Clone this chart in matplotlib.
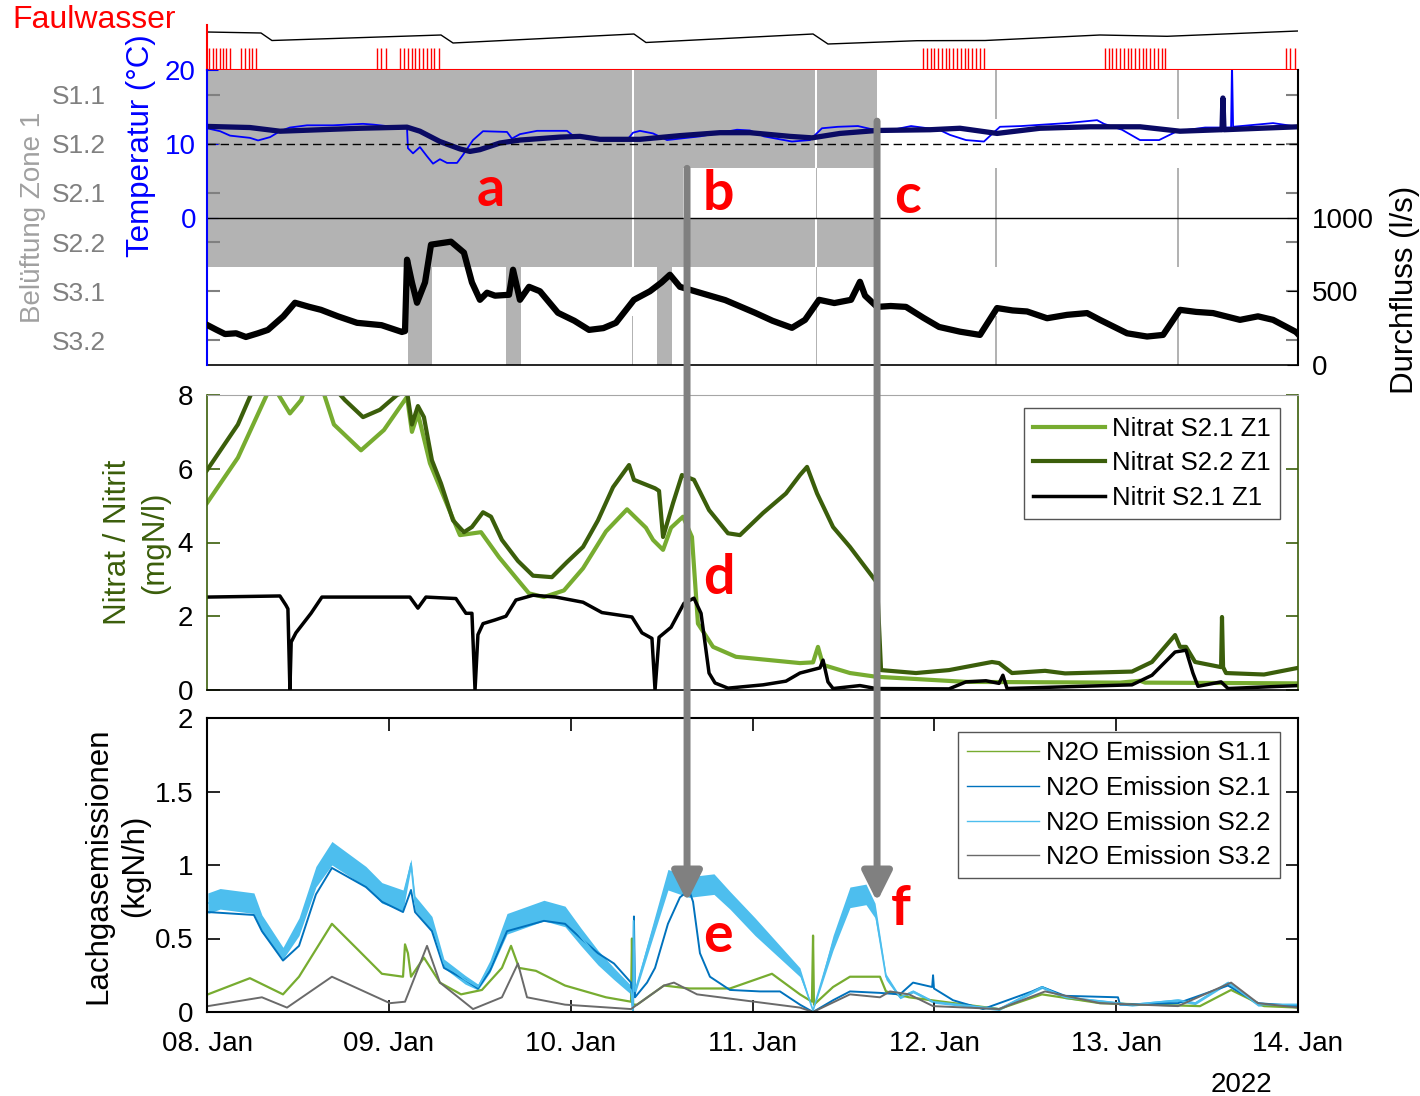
import matplotlib
matplotlib.use('Agg')
import matplotlib.pyplot as plt
import numpy as np
from matplotlib.patches import ConnectionPatch

plt.rcParams['font.family'] = ['Liberation Sans', 'DejaVu Sans']
plt.rcParams['xtick.direction'] = 'in'
plt.rcParams['ytick.direction'] = 'in'

# time axis: days since 08. Jan 2022 00:00
day_ticks = [0, 1, 2, 3, 4, 5, 6]
day_labels = ['08. Jan', '09. Jan', '10. Jan', '11. Jan', '12. Jan', '13. Jan', '14. Jan']

# Faulwasser dosing pulses (hours) and level signal
fw_pulses_h = [0.3, 0.75, 1.2, 1.65, 2.1, 2.55, 3.0,
               4.5, 5.0, 5.5, 6.0, 6.5,
               22.4, 23.0, 23.6,
               25.5, 26.0, 26.5, 27.0, 27.5, 28.0, 28.5, 29.0, 29.5, 30.0, 30.6,
               94.5, 95.0, 95.5, 96.0, 96.5, 97.0, 97.5, 98.0, 98.5, 99.0, 99.5, 100.0,
               100.5, 101.0, 101.5, 102.0, 102.5,
               118.5, 119.0, 119.5, 120.0, 120.5, 121.0, 121.5, 122.0, 122.5, 123.0,
               123.5, 124.0, 124.5, 125.0, 125.5, 126.0, 126.5,
               142.4, 143.0, 143.6]
fw_level_t = [0.000, 0.297, 0.357, 1.287, 1.353, 2.348, 2.414, 3.333, 3.415, 3.905, 4.279, 4.911, 5.280, 6.000]
fw_level = [38, 37, 29.5, 35, 27, 36, 27.5, 36, 26, 29.3, 29.5, 35, 33.7, 39]

# aeration on-times per zone (start, end in days)
bel_names = ['S1.1', 'S1.2', 'S2.1', 'S2.2', 'S3.1', 'S3.2']
bel_on = [
    [(0, 2.335), (2.347, 3.345), (3.357, 3.685), (4.336, 4.343), (5.337, 5.344)],
    [(0, 2.335), (2.347, 3.345), (3.357, 3.685)],
    [(0, 2.335), (2.347, 2.62), (3.348, 3.353), (4.336, 4.343), (5.337, 5.344)],
    [(0, 2.335), (2.347, 3.345), (3.357, 3.685), (4.336, 4.343), (5.337, 5.344)],
    [(1.105, 1.237), (1.644, 1.727), (2.475, 2.557), (3.348, 3.353)],
    [(1.105, 1.237), (1.644, 1.727), (2.338, 2.343), (2.475, 2.557), (3.348, 3.353),
     (4.336, 4.343), (5.337, 5.344)],
]

# temperature (degC)
temp_t = [0.000, 0.072, 0.127, 0.236, 0.281, 0.347, 0.401, 0.456, 0.550, 0.693, 0.858, 0.913,
          1.100, 1.105, 1.133, 1.171, 1.210, 1.243, 1.281, 1.320, 1.375, 1.408, 1.463, 1.518,
          1.650, 1.677, 1.721, 1.815, 1.980, 2.013, 2.161, 2.310, 2.343, 2.381, 2.453, 2.530,
          2.601, 2.711, 2.915, 2.986, 3.063, 3.217, 3.316, 3.382, 3.470, 3.580, 3.668, 3.773,
          3.872, 4.026, 4.086, 4.174, 4.273, 4.312, 4.361, 4.477, 4.730, 4.895, 4.933, 5.032,
          5.131, 5.236, 5.335, 5.489, 5.632, 5.637, 5.643, 5.863, 6.000]
temp = [12.1, 11.7, 11.1, 10.8, 10.45, 10.9, 11.7, 12.2, 12.5, 12.5, 12.7, 12.6,
        12.1, 9.4, 8.7, 9.55, 8.3, 7.3, 7.9, 7.4, 7.4, 8.5, 10.5, 11.7,
        11.6, 10.7, 11.3, 11.75, 11.75, 11.1, 10.7, 10.5, 11.5, 11.75, 11.4, 10.5,
        10.7, 11.0, 11.9, 11.8, 11.0, 10.3, 10.5, 12.1, 12.3, 12.4, 11.9, 11.9,
        12.4, 11.9, 11.2, 10.5, 10.3, 11.2, 12.3, 12.4, 12.8, 13.2, 12.7, 11.9,
        10.5, 10.5, 11.7, 12.2, 12.2, 21.0, 12.3, 12.8, 12.3]
tavg_t = [0.000, 0.236, 0.401, 0.511, 0.841, 1.100, 1.171, 1.281, 1.391, 1.446, 1.501, 1.611,
          1.721, 1.941, 2.051, 2.161, 2.381, 2.601, 2.821, 2.986, 3.206, 3.327, 3.481, 3.685,
          3.976, 4.141, 4.345, 4.581, 4.856, 5.131, 5.351, 5.571, 5.582, 5.587, 5.593, 5.791, 6.000]
tavg = [12.35, 12.2, 11.7, 11.8, 12.1, 12.25, 11.7, 10.3, 9.3, 8.96, 9.2, 10.1,
        10.5, 10.9, 11.0, 10.6, 10.6, 11.1, 11.5, 11.5, 11.0, 10.8, 11.4, 11.8,
        11.9, 12.1, 11.4, 12.1, 12.3, 12.3, 11.7, 11.9, 11.9, 16.2, 11.9, 12.1, 12.3]

# inflow (l/s)
flow_t = [0.000, 0.050, 0.099, 0.160, 0.214, 0.280, 0.335, 0.420, 0.484, 0.560, 0.627, 0.720,
          0.825, 0.960, 1.072, 1.089, 1.100, 1.127, 1.155, 1.199, 1.232, 1.342, 1.413, 1.457,
          1.501, 1.540, 1.584, 1.661, 1.683, 1.721, 1.771, 1.831, 1.930, 2.020, 2.101, 2.180,
          2.249, 2.348, 2.436, 2.500, 2.546, 2.601, 2.711, 2.850, 3.014, 3.110, 3.217, 3.289,
          3.366, 3.450, 3.542, 3.591, 3.619, 3.685, 3.760, 3.844, 3.940, 4.026, 4.141, 4.251,
          4.345, 4.430, 4.510, 4.620, 4.730, 4.840, 4.911, 5.060, 5.170, 5.258, 5.351, 5.440,
          5.533, 5.681, 5.780, 5.863, 5.989, 6.000]
flow = [272, 240, 210, 215, 190, 215, 238, 330, 422, 395, 374, 330,
        286, 270, 224, 230, 714, 560, 422, 560, 816, 836, 762, 560,
        442, 490, 470, 476, 646, 442, 530, 500, 354, 300, 238, 250,
        286, 442, 500, 560, 612, 530, 490, 440, 354, 300, 252, 306,
        442, 420, 442, 564, 470, 394, 400, 394, 320, 258, 226, 204,
        386, 370, 363, 317, 340, 352, 306, 215, 193, 204, 374, 360,
        352, 306, 330, 306, 224, 210]

# nitrate / nitrite (mgN/l)
n21_t = [0.000, 0.170, 0.319, 0.357, 0.456, 0.517, 0.550, 0.632, 0.698, 0.847, 0.973, 1.100,
         1.127, 1.160, 1.226, 1.331, 1.391, 1.507, 1.606, 1.710, 1.771, 1.853, 1.963, 2.068,
         2.194, 2.310, 2.414, 2.453, 2.508, 2.552, 2.618, 2.667, 2.700, 2.783, 2.909, 3.261,
         3.333, 3.360, 3.388, 3.536, 3.679, 4.174, 5.021, 5.131, 5.159, 6.000]
n21 = [5.07, 6.3, 7.9, 8.3, 7.5, 7.86, 8.3, 8.2, 7.2, 6.5, 7.05, 7.95,
       7.0, 7.5, 6.15, 4.9, 4.2, 4.28, 3.6, 2.98, 2.62, 2.52, 2.7, 3.3,
       4.3, 4.9, 4.4, 4.07, 3.8, 4.4, 4.7, 4.15, 1.8, 1.17, 0.9, 0.73,
       0.75, 1.17, 0.68, 0.46, 0.36, 0.22, 0.2, 0.25, 0.2, 0.18]
n22_t = [0.000, 0.170, 0.258, 0.511, 0.698, 0.759, 0.858, 0.951, 1.045, 1.100, 1.127, 1.160,
         1.193, 1.237, 1.287, 1.353, 1.413, 1.457, 1.518, 1.562, 1.622, 1.710, 1.793, 1.897,
         1.980, 2.068, 2.150, 2.233, 2.321, 2.348, 2.464, 2.486, 2.508, 2.563, 2.612, 2.678,
         2.761, 2.865, 2.931, 3.058, 3.184, 3.261, 3.300, 3.355, 3.443, 3.536, 3.674, 3.685,
         3.707, 3.899, 4.081, 4.317, 4.356, 4.427, 4.609, 4.719, 5.087, 5.197, 5.324, 5.351,
         5.384, 5.434, 5.577, 5.582, 5.588, 5.604, 5.813, 6.000]
n22 = [5.96, 7.2, 8.2, 8.6, 8.2, 7.86, 7.4, 7.6, 8.0, 8.1, 7.2, 7.7,
       7.4, 6.23, 5.6, 4.6, 4.28, 4.42, 4.82, 4.7, 4.07, 3.5, 3.1, 3.06,
       3.47, 3.88, 4.6, 5.5, 6.1, 5.7, 5.47, 5.4, 4.15, 5.07, 5.83, 5.7,
       4.88, 4.25, 4.2, 4.8, 5.33, 5.83, 6.05, 5.33, 4.42, 3.88, 2.98, 2.9,
       0.54, 0.46, 0.54, 0.76, 0.73, 0.46, 0.52, 0.45, 0.5, 0.76, 1.49, 1.17,
       1.17, 0.76, 0.62, 1.98, 0.62, 0.46, 0.42, 0.6]
no2_t = [0.000, 0.401, 0.434, 0.445, 0.456, 0.463, 0.489, 0.572, 0.632, 1.116, 1.160, 1.204,
         1.369, 1.424, 1.457, 1.474, 1.490, 1.518, 1.584, 1.644, 1.699, 1.793, 1.919, 2.068,
         2.172, 2.337, 2.392, 2.447, 2.464, 2.486, 2.552, 2.623, 2.678, 2.717, 2.761, 2.794,
         2.865, 3.058, 3.184, 3.261, 3.371, 3.388, 3.415, 3.443, 3.591, 3.679, 4.081, 4.174,
         4.284, 4.356, 4.377, 4.400, 5.087, 5.197, 5.324, 5.384, 5.422, 5.450, 5.577, 5.615, 6.000]
no2 = [2.52, 2.55, 2.3, 2.2, 0.0, 1.3, 1.55, 2.08, 2.52, 2.52, 2.22, 2.52,
       2.48, 2.08, 2.08, 0.0, 1.5, 1.8, 1.9, 2.0, 2.44, 2.57, 2.52, 2.38,
       2.1, 1.98, 1.55, 1.4, 0.0, 1.43, 1.7, 2.35, 2.49, 2.08, 0.46, 0.19,
       0.05, 0.14, 0.24, 0.46, 0.6, 0.81, 0.22, 0.04, 0.12, 0.04, 0.03, 0.22,
       0.25, 0.18, 0.4, 0.04, 0.14, 0.4, 1.03, 1.08, 0.46, 0.1, 0.22, 0.04, 0.12]

# N2O emissions (kgN/h)
s11_t = [0.005, 0.236, 0.418, 0.506, 0.687, 0.825, 0.962, 1.078, 1.089, 1.105, 1.122, 1.193,
         1.281, 1.397, 1.512, 1.622, 1.672, 1.716, 1.809, 1.969, 2.194, 2.332, 2.337, 2.343,
         2.365, 2.513, 2.651, 2.876, 3.107, 3.261, 3.327, 3.333, 3.338, 3.443, 3.536, 3.701,
         3.734, 3.861, 4.356, 4.592, 4.911, 5.461, 5.632, 5.813, 6.000]
s11 = [0.12, 0.23, 0.12, 0.24, 0.6, 0.43, 0.26, 0.24, 0.46, 0.4, 0.24, 0.37,
       0.2, 0.12, 0.15, 0.3, 0.45, 0.3, 0.28, 0.18, 0.1, 0.07, 0.5, 0.05,
       0.05, 0.18, 0.16, 0.16, 0.26, 0.12, 0.07, 0.52, 0.05, 0.17, 0.24, 0.24,
       0.14, 0.1, 0.02, 0.12, 0.06, 0.04, 0.15, 0.04, 0.03]
s21_t = [0.005, 0.258, 0.302, 0.418, 0.506, 0.599, 0.687, 0.874, 0.962, 1.078, 1.122, 1.144,
         1.237, 1.303, 1.419, 1.490, 1.556, 1.650, 1.853, 1.969, 2.057, 2.150, 2.238, 2.332,
         2.343, 2.348, 2.354, 2.420, 2.464, 2.535, 2.601, 2.651, 2.673, 2.711, 2.766, 2.876,
         3.041, 3.151, 3.261, 3.333, 3.443, 3.536, 3.701, 3.811, 3.883, 3.988, 3.993, 3.998,
         4.103, 4.268, 4.537, 4.592, 4.719, 5.010, 5.021, 5.340, 5.615, 5.780, 6.000]
s21 = [0.68, 0.66, 0.55, 0.35, 0.45, 0.8, 0.98, 0.85, 0.75, 0.68, 0.83, 0.68,
       0.55, 0.3, 0.22, 0.16, 0.28, 0.55, 0.62, 0.6, 0.5, 0.4, 0.33, 0.2,
       0.0, 0.65, 0.1, 0.2, 0.3, 0.6, 0.78, 0.83, 0.75, 0.4, 0.24, 0.15,
       0.14, 0.14, 0.05, 0.0, 0.08, 0.14, 0.13, 0.12, 0.2, 0.17, 0.25, 0.16,
       0.08, 0.02, 0.14, 0.17, 0.11, 0.1, 0.05, 0.06, 0.18, 0.06, 0.04]
s22_t = [0.005, 0.072, 0.258, 0.302, 0.418, 0.506, 0.599, 0.687, 0.874, 0.962, 1.078, 1.122,
         1.144, 1.237, 1.303, 1.419, 1.490, 1.556, 1.650, 1.853, 1.969, 2.057, 2.150, 2.238,
         2.332, 2.343, 2.346, 2.354, 2.420, 2.535, 2.651, 2.788, 2.876, 3.014, 3.261, 3.333,
         3.371, 3.443, 3.536, 3.624, 3.674, 3.734, 3.811, 3.883, 3.993, 4.356, 4.592, 4.719,
         5.087, 5.340, 5.434, 5.615, 5.780, 6.000]
s22 = [0.74, 0.77, 0.74, 0.6, 0.4, 0.58, 0.92, 1.08, 0.92, 0.81, 0.76, 1.01,
       0.74, 0.6, 0.33, 0.22, 0.17, 0.31, 0.6, 0.69, 0.65, 0.51, 0.37, 0.26,
       0.15, 0.0, 0.62, 0.14, 0.42, 0.9, 0.85, 0.87, 0.76, 0.58, 0.27, 0.01,
       0.17, 0.47, 0.78, 0.8, 0.69, 0.24, 0.1, 0.14, 0.07, 0.02, 0.17, 0.1,
       0.05, 0.08, 0.06, 0.2, 0.05, 0.05]
# half-width of the measurement noise band of S2.2
s22_spread = [0.07, 0.07, 0.07, 0.06, 0.04, 0.06, 0.07, 0.08, 0.07, 0.07, 0.07, 0.03,
              0.05, 0.05, 0.03, 0.03, 0.02, 0.04, 0.07, 0.07, 0.07, 0.06, 0.05, 0.04,
              0.03, 0.0, 0.0, 0.02, 0.04, 0.07, 0.07, 0.07, 0.06, 0.06, 0.03, 0.0,
              0.02, 0.05, 0.07, 0.07, 0.05, 0.02, 0.01, 0.01, 0.01, 0.01, 0.01, 0.01,
              0.01, 0.01, 0.01, 0.01, 0.01, 0.01]
s32_t = [0.005, 0.302, 0.440, 0.687, 1.006, 1.089, 1.210, 1.281, 1.463, 1.622, 1.710, 1.760,
         1.969, 2.332, 2.513, 2.568, 2.695, 3.261, 3.333, 3.536, 3.701, 3.756, 3.861, 3.993,
         4.356, 4.609, 4.911, 5.340, 5.632, 5.780, 6.000]
s32 = [0.04, 0.1, 0.03, 0.24, 0.06, 0.07, 0.45, 0.2, 0.02, 0.1, 0.33, 0.1,
       0.05, 0.02, 0.18, 0.2, 0.12, 0.03, 0.0, 0.12, 0.1, 0.14, 0.12, 0.04,
       0.02, 0.14, 0.06, 0.04, 0.2, 0.06, 0.03]
n2o_yticks = [0, 0.5, 1, 1.5, 2]
n2o_yticklabels = ['0', '0.5', '1', '1.5', '2']

# arrows (time, top in aeration-band units) and event letters
arrow_t = [2.64, 3.685]
arrow_top = [2.0, 1.04]
arrow_tip = 0.75

GRAY = '#b3b3b3'
C_NO3_1 = '#77ac30'
C_NO3_2 = '#3b5e0b'

fig = plt.figure(figsize=(14.2, 10.96), dpi=100)
L, W = 207 / 1420, 1091 / 1420
ax_fw = fig.add_axes([L, 1 - 70 / 1096, W, 45 / 1096])
ax_bel = fig.add_axes([L, 1 - 365 / 1096, W, 295 / 1096])
ax_mid = fig.add_axes([L, 1 - 690 / 1096, W, 295 / 1096])
ax_bot = fig.add_axes([L, 1 - 1012 / 1096, W, 294 / 1096])

# --- Faulwasser strip
ax_fw.vlines(np.array(fw_pulses_h) / 24, 0, 22, color='red', lw=1)
ax_fw.plot(fw_level_t, fw_level, color='black', lw=1)
ax_fw.set_xlim(0, 6)
ax_fw.set_ylim(0, 45)
ax_fw.set_xticks([])
ax_fw.set_yticks([])
for s in ['top', 'right']:
    ax_fw.spines[s].set_visible(False)
for s in ['left', 'bottom']:
    ax_fw.spines[s].set_color('red')
    ax_fw.spines[s].set_linewidth(1.5)
ax_fw.patch.set_alpha(0)
fig.text(12 / 1420, 1 - 20 / 1096, 'Faulwasser', color='red', fontsize=23, ha='left', va='center')

# --- aeration / temperature / flow panel
for i, on in enumerate(bel_on):
    ax_bel.broken_barh([(s, e - s) for s, e in on], (i, 1), facecolor=GRAY, edgecolor='none')
ax_bel.set_xlim(0, 6)
ax_bel.set_ylim(6, 0)

ax_temp = ax_bel.twinx()
ax_flow = ax_bel.twinx()

ax_bel.set_xticks([])
ax_bel.set_yticks(np.arange(6) + 0.5)
ax_bel.set_yticklabels(bel_names)
ax_bel.tick_params(axis='y', left=True, right=True, labelleft=True, labelright=False,
                   color='#808080', labelcolor='#808080', labelsize=19, pad=73, length=9, width=1.5)
ax_bel.set_ylabel('Belüftung Zone 1', color='#a0a0a0', fontsize=20)
ax_bel.yaxis.set_label_coords(-0.148, 0.5)
for s in ['top', 'left', 'right']:
    ax_bel.spines[s].set_visible(False)

ax_temp.plot(temp_t, temp, color='blue', lw=1.3)
ax_temp.plot(tavg_t, tavg, color='#0a0a64', lw=3.8, solid_capstyle='round')
ax_temp.axhline(10, color='black', lw=1, dashes=(6, 3.5))
ax_temp.axhline(0, color='black', lw=1)
ax_temp.set_xlim(0, 6)
ax_temp.set_ylim(-20, 20)
ax_temp.set_yticks([0, 10, 20])
ax_temp.tick_params(axis='y', left=True, right=False, labelleft=True, labelright=False,
                    colors='blue', labelsize=20, pad=8, length=8)
ax_temp.yaxis.set_label_position('left')
ax_temp.set_ylabel('Temperatur (°C)', color='blue', fontsize=22.5)
ax_temp.yaxis.set_label_coords(-0.047, 0.742)
for s in ['top', 'right', 'bottom']:
    ax_temp.spines[s].set_visible(False)
ax_temp.spines['left'].set_color('blue')
ax_temp.spines['left'].set_linewidth(1.5)

ax_flow.plot(flow_t, flow, color='black', lw=4.5, solid_joinstyle='round')
ax_flow.set_xlim(0, 6)
ax_flow.set_ylim(0, 2000)
ax_flow.set_yticks([0, 500, 1000])
ax_flow.tick_params(axis='y', labelsize=20, pad=10, length=8)
ax_flow.set_ylabel('Durchfluss (l/s)', fontsize=22.5)
ax_flow.yaxis.set_label_coords(1.084, 0.254)
for s in ['top', 'left', 'bottom']:
    ax_flow.spines[s].set_visible(False)
ax_flow.spines['right'].set_linewidth(1.5)
ax_bel.spines['bottom'].set_linewidth(1.2)

ax_temp.text(1.562, 1.6, 'a', color='red', fontsize=40, fontweight='bold', family='Lato',
             ha='center', va='baseline')
ax_temp.text(2.81, 1.0, 'b', color='red', fontsize=40, fontweight='bold', family='Lato',
             ha='center', va='baseline')
ax_temp.text(3.85, 0.6, 'c', color='red', fontsize=40, fontweight='bold', family='Lato',
             ha='center', va='baseline')

# --- nitrate / nitrite panel
ax_mid.plot(n21_t, n21, color=C_NO3_1, lw=3, label='Nitrat S2.1 Z1')
ax_mid.plot(n22_t, n22, color=C_NO3_2, lw=3, label='Nitrat S2.2 Z1')
ax_mid.plot(no2_t, no2, color='black', lw=2.5, label='Nitrit S2.1 Z1')
ax_mid.set_xlim(0, 6)
ax_mid.set_ylim(0, 8)
ax_mid.set_xticks([])
ax_mid.set_yticks([0, 2, 4, 6, 8])
ax_mid.tick_params(axis='y', left=True, right=True, color=C_NO3_2, labelsize=20, pad=10, length=9, width=1.2)
ax_mid.set_ylabel('Nitrat / Nitrit\n(mgN/l)', color=C_NO3_2, fontsize=22.5, linespacing=1.3)
ax_mid.yaxis.set_label_coords(-0.034, 0.5)
ax_mid.spines['left'].set_color(C_NO3_2)
ax_mid.spines['right'].set_color(C_NO3_2)
ax_mid.spines['top'].set_color('#a6a6a6')
for s in ['left', 'right', 'bottom']:
    ax_mid.spines[s].set_linewidth(1.2)
leg = ax_mid.legend(loc='upper right', bbox_to_anchor=(0.9835, 0.956), fontsize=18.5, fancybox=False,
                    edgecolor='#555555', framealpha=1, handlelength=2.8, handletextpad=0.3,
                    labelspacing=0.4, borderpad=0.35, borderaxespad=0)
leg.get_frame().set_linewidth(1)
ax_mid.text(2.816, 2.6, 'd', color='red', fontsize=40, fontweight='bold', family='Lato',
            ha='center', va='baseline')

# --- N2O panel
ax_bot.plot(s11_t, s11, color='#77ac30', lw=1.6, label='N2O Emission S1.1')
ax_bot.plot(s21_t, s21, color='#0072bd', lw=1.4, label='N2O Emission S2.1')
s22_lo = np.array(s22) - np.array(s22_spread)
s22_hi = np.array(s22) + np.array(s22_spread)
ax_bot.fill_between(s22_t, s22_lo, s22_hi, color='#4dbeee', lw=0)
ax_bot.plot(s22_t, s22, color='#4dbeee', lw=1.2, label='N2O Emission S2.2')
ax_bot.plot(s32_t, s32, color='#6a6a6a', lw=1.4, label='N2O Emission S3.2')
ax_bot.set_xlim(0, 6)
ax_bot.set_ylim(0, 2)
ax_bot.set_xticks(day_ticks)
ax_bot.set_xticklabels(day_labels)
ax_bot.set_yticks(n2o_yticks)
ax_bot.set_yticklabels(n2o_yticklabels)
ax_bot.tick_params(axis='x', top=True, bottom=True, labelsize=20, pad=14, length=9, width=1.2)
ax_bot.tick_params(axis='y', left=True, right=True, labelsize=20, pad=10, length=9, width=1.2)
ax_bot.set_ylabel('Lachgasemissionen\n(kgN/h)', fontsize=22.5, linespacing=1.3)
ax_bot.yaxis.set_label_coords(-0.052, 0.497)
for s in ax_bot.spines.values():
    s.set_linewidth(1.5)
leg2 = ax_bot.legend(loc='upper right', bbox_to_anchor=(0.9835, 0.952), fontsize=18.5, fancybox=False,
                     edgecolor='#555555', framealpha=1, handlelength=2.8, handletextpad=0.3,
                     labelspacing=0.42, borderpad=0.35, borderaxespad=0)
leg2.get_frame().set_linewidth(1)
for h in leg2.get_lines():
    h.set_linewidth(1)
ax_bot.text(2.81, 0.41, 'e', color='red', fontsize=40, fontweight='bold', family='Lato',
            ha='center', va='baseline')
ax_bot.text(3.817, 0.59, 'f', color='red', fontsize=40, fontweight='bold', family='Lato',
            ha='center', va='baseline')
fig.text(1241 / 1420, 1 - 1085 / 1096, '2022', fontsize=20, ha='center', va='center')

# --- arrows crossing the panels
for x0, y0 in zip(arrow_t, arrow_top):
    con = ConnectionPatch(xyA=(x0, y0), coordsA=ax_bel.transData,
                          xyB=(x0, arrow_tip), coordsB=ax_bot.transData,
                          arrowstyle='-|>,head_length=0.9,head_width=0.45', mutation_scale=20,
                          lw=5, color='#808080', shrinkA=0, shrinkB=0)
    fig.add_artist(con)

fig.savefig('out.png', dpi=100)
